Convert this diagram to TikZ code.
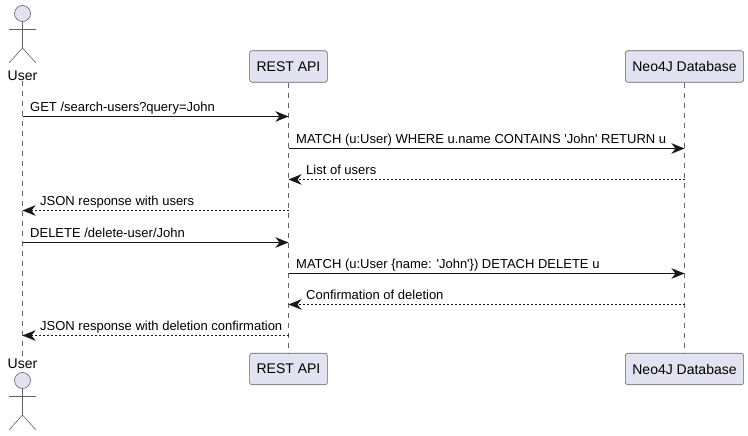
\documentclass[tikz,border=0pt]{standalone}
\usepackage{fontspec}
\setmainfont{Liberation Sans}
\usetikzlibrary{arrows.meta, positioning}
\definecolor{partfill}{RGB}{226,226,240}
\definecolor{partborder}{RGB}{100,100,100}
\definecolor{msgline}{RGB}{24,24,24}
\tikzset{
  part/.style={rectangle, rounded corners=2.5pt, draw=partborder, line width=0.6pt,
               fill=partfill, minimum height=31.5pt, inner xsep=7pt, font=\fontsize{14}{16}\selectfont},
  head/.style={circle, draw=partborder, line width=0.6pt, fill=partfill, minimum size=16pt, inner sep=0pt},
  actorname/.style={inner sep=0pt, font=\fontsize{14}{16}\selectfont},
  life/.style={draw=partborder, line width=0.6pt, dash pattern=on 5pt off 5pt},
  limb/.style={draw=partborder, line width=0.6pt},
  msg/.style={-{Stealth[length=13pt, width=10.5pt, inset=4pt]}, line width=0.9pt, draw=msgline},
  ret/.style={msg, dash pattern=on 2pt off 2pt},
  lbl/.style={anchor=base west, inner sep=0pt, font=\fontsize{13}{15}\selectfont}
}
\begin{document}
\begin{tikzpicture}[x=1pt, y=-1pt]
\useasboundingbox (0,0) rectangle (748,436);
% participants
\node[actorname] (usertop) at (22.5,75.5) {User};
\node[actorname] (userbot) at (22.5,363.5) {User};
\node[part] (apitop) at (288.5,66.5) {REST API};
\node[part] (apibot) at (288.5,369) {REST API};
\node[part] (dbtop) at (684.5,66.5) {Neo4J Database};
\node[part] (dbbot) at (684.5,369) {Neo4J Database};
% lifelines
\draw[life] (usertop) -- (userbot);
\draw[life] (apitop) -- (apibot);
\draw[life] (dbtop) -- (dbbot);
% actor figures
\node[head] (headtop) at (22.5,13.5) {};
\coordinate (hiptop) at (22.5,48);
\coordinate (armltop) at (9,29);
\coordinate (armrtop) at (36,29);
\coordinate (footltop) at (9,63);
\coordinate (footrtop) at (36,63);
\draw[limb] (headtop) -- (hiptop);
\draw[limb] (armltop) -- (armrtop);
\draw[limb] (footltop) -- (hiptop) -- (footrtop);
\node[head] (headbot) at (22.5,380.5) {};
\coordinate (hipbot) at (22.5,415);
\coordinate (armlbot) at (9,396);
\coordinate (armrbot) at (36,396);
\coordinate (footlbot) at (9,430);
\coordinate (footrbot) at (36,430);
\draw[limb] (headbot) -- (hipbot);
\draw[limb] (armlbot) -- (armrbot);
\draw[limb] (footlbot) -- (hipbot) -- (footrbot);
% message ends on the lifelines
\foreach \n/\y in {1/116.5, 2/148.5, 3/179.5, 4/210.5, 5/242.5, 6/273.5, 7/304.5, 8/335.5} {
  \coordinate (u\n) at (22.5,\y);
  \coordinate (a\n) at (288.5,\y);
  \coordinate (d\n) at (684.5,\y);
}
% messages
\draw[msg] (u1) -- (a1);
\node[lbl] (t1) at (30,111.5) {GET /search-users?query=John};
\draw[msg] (a2) -- (d2);
\node[lbl] (t2) at (296,143) {MATCH (u:User) WHERE u.name CONTAINS \textquotesingle John\textquotesingle{} RETURN u};
\draw[ret] (d3) -- (a3);
\node[lbl] (t3) at (306,174) {List of users};
\draw[ret] (a4) -- (u4);
\node[lbl] (t4) at (40,205.5) {JSON response with users};
\draw[msg] (u5) -- (a5);
\node[lbl] (t5) at (30,237) {DELETE /delete-user/John};
\draw[msg] (a6) -- (d6);
\node[lbl] (t6) at (296,268) {MATCH (u:User \{name: \textquotesingle John\textquotesingle\}) DETACH DELETE u};
\draw[ret] (d7) -- (a7);
\node[lbl] (t7) at (306,299.5) {Confirmation of deletion};
\draw[ret] (a8) -- (u8);
\node[lbl] (t8) at (40,330.5) {JSON response with deletion confirmation};
\end{tikzpicture}
\end{document}
